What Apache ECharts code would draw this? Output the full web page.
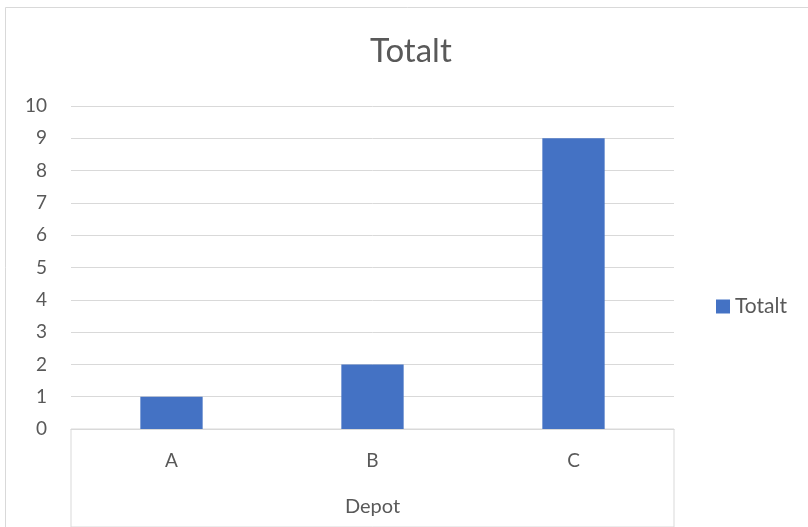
<!DOCTYPE html>
<html>
<head>
<meta charset="utf-8">
<script src="https://cdn.jsdelivr.net/npm/echarts@6/dist/echarts.min.js"></script>
<style>html,body{margin:0;padding:0;background:#fff}#c{width:808px;height:527px}</style>
</head>
<body>
<div id="c"></div>
<script>
var categories = ['A', 'B', 'C'];
var totalt = [1, 2, 9];
var seriesName = 'Totalt';
var chartTitle = 'Totalt';
var xAxisName = 'Depot';

var txt = '#595959';
var line = '#d9d9d9';
var font = 'Lato';

var chart = echarts.init(document.getElementById('c'));
chart.setOption({
  backgroundColor: '#fff',
  animation: false,
  textStyle: { fontFamily: font },
  graphic: [{
    type: 'rect', silent: true,
    shape: { x: 5.5, y: 7.5, width: 900, height: 700 },
    style: { fill: 'none', stroke: line, lineWidth: 1 }
  }],
  title: {
    text: chartTitle,
    left: 370, top: 35, padding: 0,
    textStyle: { fontFamily: font, fontSize: 33, fontWeight: 'normal', color: txt }
  },
  legend: {
    data: [seriesName],
    left: 716, top: 296, padding: 0,
    itemWidth: 14, itemHeight: 14,
    icon: 'rect',
    textStyle: { fontFamily: font, fontSize: 21, color: txt }
  },
  grid: [
    { left: 71, right: 134, top: 106, bottom: 98 },
    { left: 71, right: 134, top: 429, bottom: -20, show: true, borderColor: line, borderWidth: 1, backgroundColor: 'transparent' }
  ],
  xAxis: [{
    type: 'category', data: categories, gridIndex: 0,
    name: xAxisName, nameLocation: 'middle', nameGap: 68,
    nameTextStyle: { fontFamily: font, fontSize: 20, color: txt },
    axisLine: { show: true, lineStyle: { color: line, width: 1 } },
    axisTick: { show: false },
    axisLabel: { margin: 22, fontFamily: font, fontSize: 19, color: txt },
    splitLine: { show: false }
  }, {
    type: 'category', data: categories, gridIndex: 1, show: false
  }],
  yAxis: [{
    type: 'value', min: 0, max: 10, interval: 1, gridIndex: 0,
    axisLine: { show: false }, axisTick: { show: false },
    axisLabel: { margin: 24, fontFamily: font, fontSize: 19, color: txt },
    splitLine: { show: true, lineStyle: { color: line, width: 1 } }
  }, {
    type: 'value', gridIndex: 1, show: false
  }],
  series: [{
    name: seriesName, type: 'bar', data: totalt,
    xAxisIndex: 0, yAxisIndex: 0,
    barWidth: '31%',
    itemStyle: { color: '#4472C4' }
  }]
});
</script>
</body>
</html>
